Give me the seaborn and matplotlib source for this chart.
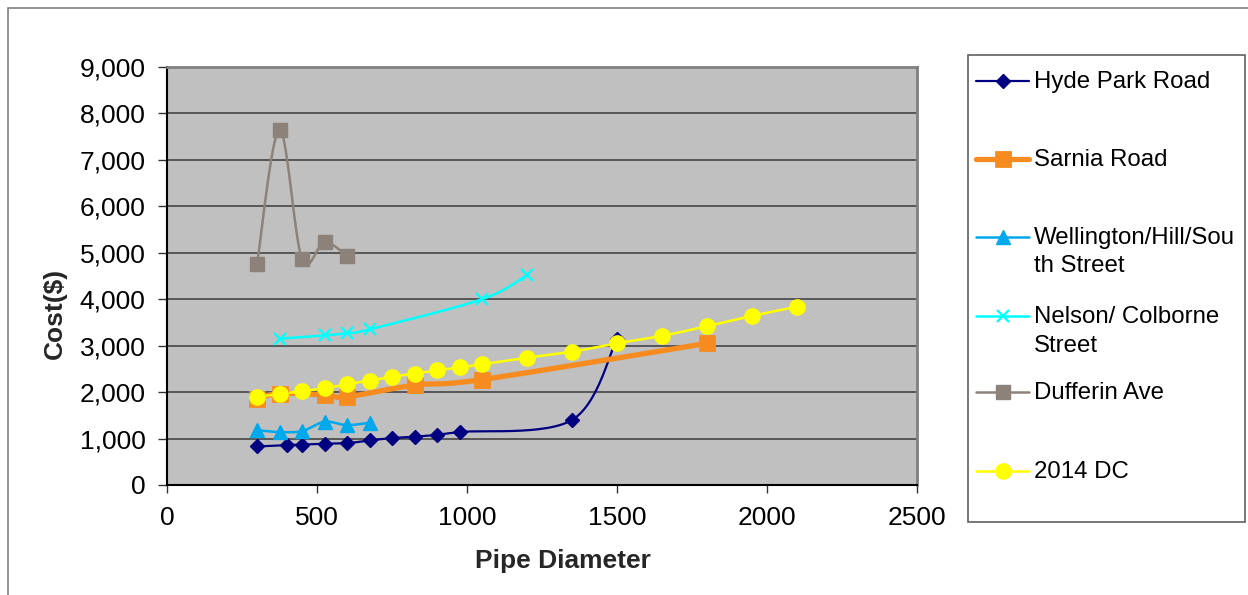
import numpy as np
import pandas as pd
import matplotlib
matplotlib.use("Agg")
import matplotlib.pyplot as plt
from matplotlib.lines import Line2D
from matplotlib.patches import Rectangle
from matplotlib.ticker import FuncFormatter, MultipleLocator
import seaborn as sns

# ---- data -------------------------------------------------------------
hyde_x = [300, 400, 450, 525, 600, 675, 750, 825, 900, 975, 1350, 1500]
hyde_y = [830, 860, 870, 890, 900, 960, 1010, 1040, 1080, 1140, 1400, 3150]

sarnia_x = [300, 375, 525, 600, 825, 1050, 1800]
sarnia_y = [1860, 1970, 1940, 1900, 2150, 2270, 3050]

wellington_x = [300, 375, 450, 525, 600, 675]
wellington_y = [1180, 1140, 1160, 1360, 1290, 1340]

nelson_x = [375, 525, 600, 675, 1050, 1200]
nelson_y = [3150, 3220, 3270, 3350, 4000, 4520]

dufferin_x = [300, 375, 450, 525, 600]
dufferin_y = [4750, 7650, 4860, 5230, 4930]

dc_x = [300, 375, 450, 525, 600, 675, 750, 825, 900, 975, 1050, 1200,
        1350, 1500, 1650, 1800, 1950, 2100]
dc_y = [1900, 1960, 2020, 2080, 2170, 2250, 2330, 2400, 2470, 2530, 2600,
        2740, 2870, 3050, 3210, 3420, 3640, 3840]

series_names = ["Hyde Park Road", "Sarnia Road", "Wellington/Hill/Sou\nth Street",
                "Nelson/ Colborne\nStreet", "Dufferin Ave", "2014 DC"]
x_label = "Pipe Diameter"
y_label = "Cost($)"

# ---- styles -----------------------------------------------------------
styles = [
    dict(color="#000080", lw=1.6, marker="D", ms=7.0, mew=1.0),
    dict(color="#F68B1F", lw=3.8, marker="s", ms=10.5, mew=2.0),
    dict(color="#00A8EC", lw=1.8, marker="^", ms=10.5, mew=1.0),
    dict(color="#00FFFF", lw=1.8, marker="x", ms=9.0, mew=1.6),
    dict(color="#8C8279", lw=1.8, marker="s", ms=10.5, mew=1.0),
    dict(color="#FFFF00", lw=1.8, marker="o", ms=11.0, mew=1.0),
]
data = [(hyde_x, hyde_y), (sarnia_x, sarnia_y), (wellington_x, wellington_y),
        (nelson_x, nelson_y), (dufferin_x, dufferin_y), (dc_x, dc_y)]


def smooth(xs, ys, n=30):
    """Cardinal (Catmull-Rom style) Bezier smoothing through every point."""
    p = np.column_stack([xs, ys]).astype(float)
    out = [p[0]]
    t = np.linspace(0, 1, n)[1:, None]
    for i in range(len(p) - 1):
        p0 = p[i - 1] if i > 0 else p[i]
        p1, p2 = p[i], p[i + 1]
        p3 = p[i + 2] if i + 2 < len(p) else p[i + 1]
        c1 = p1 + (p2 - p0) / 6.0
        c2 = p2 - (p3 - p1) / 6.0
        seg = ((1 - t) ** 3) * p1 + 3 * ((1 - t) ** 2) * t * c1 \
            + 3 * (1 - t) * t ** 2 * c2 + t ** 3 * p2
        out.extend(seg)
    out = np.array(out)
    return out[:, 0], out[:, 1]


sns.set_style("white")
plt.rcParams["font.family"] = ["Liberation Sans", "DejaVu Sans"]

W, H = 1248, 595
fig = plt.figure(figsize=(W / 100, H / 100), dpi=100)
fig.patch.set_facecolor("white")

# outer chart frame
fig.add_artist(Rectangle((8 / W, -0.1), 1.2, 1 - 8 / H + 0.1,
                         transform=fig.transFigure, fill=False,
                         edgecolor="#808080", lw=1.2))

ax = fig.add_axes([167 / W, 1 - 485 / H, 750 / W, 418 / H])
ax.set_facecolor("#C0C0C0")

for (xs, ys), st in zip(data, styles):
    sx, sy = smooth(xs, ys)
    curve = pd.DataFrame({"x": sx, "y": sy})
    sns.lineplot(data=curve, x="x", y="y", ax=ax, color=st["color"],
                 lw=st["lw"], sort=False, estimator=None, zorder=3)
    ax.plot(xs, ys, linestyle="none", marker=st["marker"], ms=st["ms"],
            mfc=st["color"], mec=st["color"], mew=st["mew"],
            solid_joinstyle="round", zorder=4)

ax.set_xlim(0, 2500)
ax.set_ylim(0, 9000)
ax.xaxis.set_major_locator(MultipleLocator(500))
ax.yaxis.set_major_locator(MultipleLocator(1000))
ax.yaxis.set_major_formatter(FuncFormatter(lambda v, _: f"{int(v):,}"))
ax.grid(axis="y", color="#3a3a3a", lw=1.1)
ax.grid(axis="x", visible=False)
ax.set_axisbelow(True)

for side in ("left", "bottom"):
    ax.spines[side].set_color("black")
    ax.spines[side].set_linewidth(1.5)
for side in ("top", "right"):
    ax.spines[side].set_color("#808080")
    ax.spines[side].set_linewidth(2.0)

ax.tick_params(axis="both", direction="out", length=6.5, width=1.0,
               color="#333333", labelsize=19, pad=9, labelcolor="black")
ax.tick_params(axis="x", length=6)
ax.tick_params(left=True, bottom=True)

ax.set_xlabel(x_label, fontsize=19, fontweight="bold")
ax.set_ylabel(y_label, fontsize=19, fontweight="bold")
ax.xaxis.set_label_coords(0.528, -0.153)
ax.yaxis.set_label_coords(-0.1333, 0.411)

# ---- legend box -------------------------------------------------------
fig.add_artist(Rectangle((968 / W, 1 - 522 / H), (1245 - 968) / W, (522 - 55) / H,
                         transform=fig.transFigure, facecolor="white",
                         edgecolor="#606060", lw=1.2))
row_y = [82, 160, 238, 317, 393, 472]
line_gap = 28.5
for name, st, yy in zip(series_names, styles, row_y):
    fy = 1 - (yy - 1) / H
    fig.add_artist(Line2D([976 / W, 1029 / W], [fy, fy], transform=fig.transFigure,
                          color=st["color"], lw=st["lw"]))
    fig.add_artist(Line2D([1003 / W], [fy], transform=fig.transFigure,
                          linestyle="none", marker=st["marker"], ms=st["ms"],
                          mfc=st["color"], mec=st["color"], mew=st["mew"]))
    for k, part in enumerate(name.split("\n")):
        fig.text(1034 / W, 1 - (yy + k * line_gap) / H, part, fontsize=17.3,
                 va="center", ha="left", color="black")

fig.savefig("out.png", dpi=100)
